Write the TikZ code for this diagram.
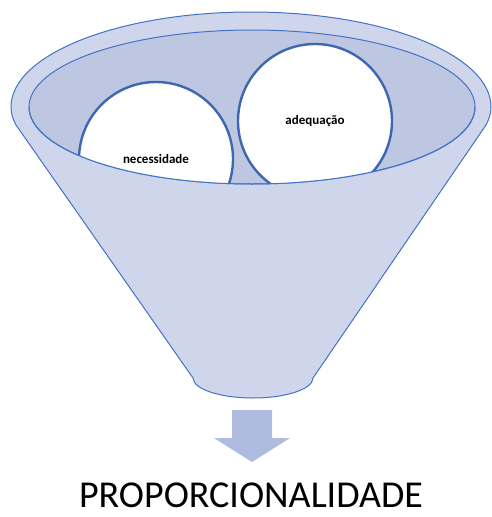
\documentclass[tikz,border=0pt]{standalone}
\usepackage{fontspec}
\setmainfont{Carlito}
\definecolor{funfill}{HTML}{CFD6EB}
\definecolor{innerfill}{HTML}{BDC7E2}
\definecolor{lineblue}{HTML}{4472C4}
\definecolor{circline}{HTML}{3F67B0}
\definecolor{arrowfill}{HTML}{AFBCE0}
\tikzset{
  funnelline/.style={draw=lineblue, line width=1pt},
  ball/.style={circle, draw=circline, line width=2.4pt, fill=white, minimum size=154pt, inner sep=0pt, font=\bfseries\fontsize{13}{15}\selectfont},
}
\begin{document}
\begin{tikzpicture}[x=1pt,y=-1pt]
\useasboundingbox (0,0) rectangle (492,517);
% funnel body
\path[funnelline, fill=funfill]
  (11,107) arc[start angle=180, end angle=360, x radius=240, y radius=95]
  .. controls (491,114) and (489,119) .. (486,125)
  -- (313,378)
  arc[start angle=0, end angle=180, x radius=60, y radius=20]
  -- (16,125) .. controls (13,119) and (11,114) .. (11,107) -- cycle;
% inner opening
\path[funnelline, fill=innerfill] (252,107) ellipse[x radius=223, y radius=77];
\begin{scope}
  \clip (252,107) ellipse[x radius=223, y radius=77];
  \node[ball] (nec) at (156,159) {necessidade};
  \node[ball] (ade) at (315,121) {adequação};
\end{scope}
\draw[draw=lineblue, line width=1pt] (29,107) arc[start angle=180, end angle=0, x radius=223, y radius=77];
% arrow
\path[fill=arrowfill] (232,410) -- (272,410) -- (272,438) -- (290,438) -- (252,462) -- (214,438) -- (232,438) -- cycle;
% label
\node[font=\fontsize{38}{44}\selectfont, inner sep=0pt, anchor=base] (prop) at (251,507) {PROPORCIONALIDADE};
\end{tikzpicture}
\end{document}
